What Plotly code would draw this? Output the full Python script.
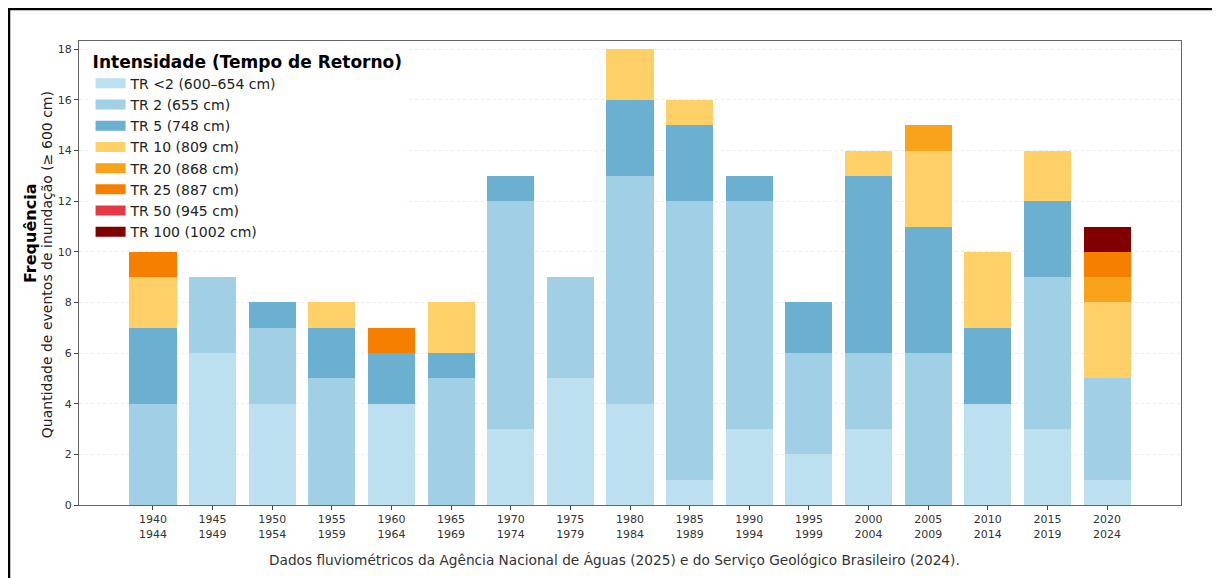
import plotly.graph_objects as go

# Períodos de 5 anos (eixo x)
PERIODS = ["1940<br>1944", "1945<br>1949", "1950<br>1954", "1955<br>1959", "1960<br>1964",
           "1965<br>1969", "1970<br>1974", "1975<br>1979", "1980<br>1984", "1985<br>1989",
           "1990<br>1994", "1995<br>1999", "2000<br>2004", "2005<br>2009", "2010<br>2014",
           "2015<br>2019", "2020<br>2024"]

# Quantidade de eventos por classe de tempo de retorno
TR_LT2 = [0, 6, 4, 0, 4, 0, 3, 5, 4, 1, 3, 2, 3, 0, 4, 3, 1]
TR_2 = [4, 3, 3, 5, 0, 5, 9, 4, 9, 11, 9, 4, 3, 6, 0, 6, 4]
TR_5 = [3, 0, 1, 2, 2, 1, 1, 0, 3, 3, 1, 2, 7, 5, 3, 3, 0]
TR_10 = [2, 0, 0, 1, 0, 2, 0, 0, 2, 1, 0, 0, 1, 3, 3, 2, 3]
TR_20 = [0, 0, 0, 0, 0, 0, 0, 0, 0, 0, 0, 0, 0, 1, 0, 0, 1]
TR_25 = [1, 0, 0, 0, 1, 0, 0, 0, 0, 0, 0, 0, 0, 0, 0, 0, 1]
TR_50 = [0, 0, 0, 0, 0, 0, 0, 0, 0, 0, 0, 0, 0, 0, 0, 0, 0]
TR_100 = [0, 0, 0, 0, 0, 0, 0, 0, 0, 0, 0, 0, 0, 0, 0, 0, 1]

CLASSES = [
    ("TR <2 (600–654 cm)", TR_LT2, "#bde0f0"),
    ("TR 2 (655 cm)", TR_2, "#a1cfe6"),
    ("TR 5 (748 cm)", TR_5, "#6cb0d1"),
    ("TR 10 (809 cm)", TR_10, "#ffd068"),
    ("TR 20 (868 cm)", TR_20, "#f9a31a"),
    ("TR 25 (887 cm)", TR_25, "#f77f00"),
    ("TR 50 (945 cm)", TR_50, "#e63946"),
    ("TR 100 (1002 cm)", TR_100, "#800000"),
]

FONT = "DejaVu Sans"
x = list(range(len(PERIODS)))

fig = go.Figure()
for name, values, color in CLASSES:
    fig.add_trace(go.Bar(
        x=x, y=values, name=name, width=0.79,
        marker=dict(color=color, line=dict(width=0)),
        showlegend=False,
    ))
# entradas da legenda como retângulos largos (linhas grossas)
for name, values, color in CLASSES:
    fig.add_trace(go.Scatter(
        x=[None], y=[None], mode="lines", name=name,
        line=dict(color=color, width=10),
    ))

# moldura externa da figura (a página já desloca o gráfico ~8 px)
fig.add_shape(type="rect", xref="paper", yref="paper",
              x0=-0.0635, x1=1.0327, y0=-0.2, y1=1.069,
              line=dict(color="black", width=2.5), layer="above")

fig.add_annotation(text="<b>Frequência</b>", xref="paper", yref="paper",
                   x=-0.0445, y=0.586, xanchor="center", yanchor="middle",
                   textangle=-90, showarrow=False,
                   font=dict(family=FONT, size=16, color="black"))
fig.add_annotation(text="Quantidade de eventos de inundação (≥ 600 cm)", xref="paper", yref="paper",
                   x=-0.029, y=0.517, xanchor="center", yanchor="middle",
                   textangle=-90, showarrow=False,
                   font=dict(family=FONT, size=14, color="#222"))
fig.add_annotation(text="Dados fluviométricos da Agência Nacional de Águas (2025) e do Serviço Geológico Brasileiro (2024).",
                   xref="paper", yref="paper", x=0.4855, y=-0.1185,
                   xanchor="center", yanchor="middle", showarrow=False,
                   font=dict(family=FONT, size=13.7, color="#333"))

fig.update_layout(
    width=1212, height=570,
    barmode="stack", bargap=0.2,
    paper_bgcolor="white", plot_bgcolor="white",
    margin=dict(l=71, r=39, t=33, b=73),
    font=dict(family=FONT, size=11, color="#333"),
    legend=dict(
        x=0.0105, y=0.99, xanchor="left", yanchor="top",
        traceorder="normal", bgcolor="rgba(255,255,255,0.85)",
        title=dict(text="<b>Intensidade (Tempo de Retorno)</b>",
                   font=dict(family=FONT, size=17, color="black"), side="top"),
        font=dict(family=FONT, size=14, color="#222"),
        tracegroupgap=0, itemwidth=30,
    ),
    xaxis=dict(
        range=[-1.24, len(PERIODS) - 1 + 1.24],
        tickmode="array", tickvals=x, ticktext=PERIODS,
        ticks="outside", ticklen=4, tickcolor="#444",
        showline=True, linecolor="#666", linewidth=1.3, mirror=True,
        showgrid=False, zeroline=False,
        tickfont=dict(family=FONT, size=11, color="#333"),
    ),
    yaxis=dict(
        range=[0, 18.33], tickmode="array", tickvals=list(range(0, 19, 2)),
        ticks="outside", ticklen=4, tickcolor="#444",
        showline=True, linecolor="#666", linewidth=1.3, mirror=True,
        showgrid=True, gridcolor="#ececec", griddash="dot", gridwidth=1,
        zeroline=False,
        tickfont=dict(family=FONT, size=11, color="#333"),
    ),
)

fig.write_html("out.html")
